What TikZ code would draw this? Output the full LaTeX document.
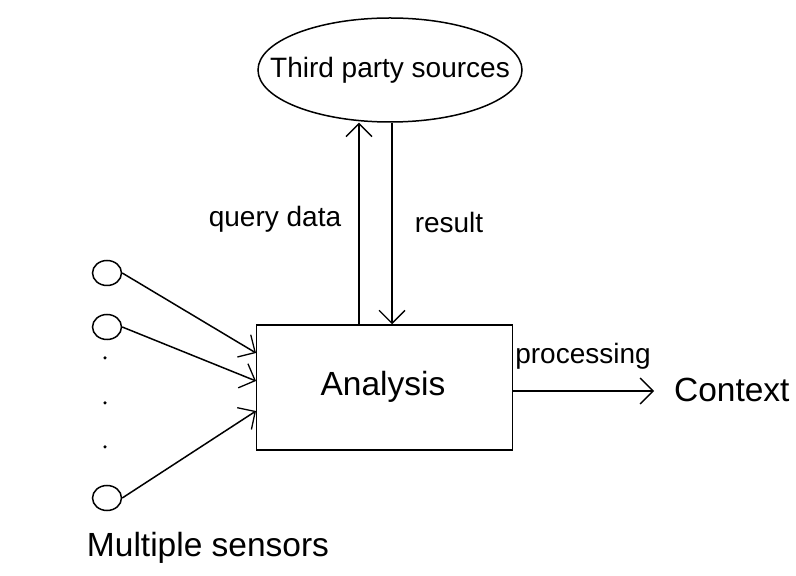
\documentclass[tikz,border=0pt]{standalone}
\usepackage{fontspec}
\setmainfont{Liberation Sans}
\usetikzlibrary{shapes.geometric,arrows.meta}
\tikzset{arr/.style={-{Straight Barb[length=13pt,width=26pt,line width=1.3pt]}}}
\begin{document}
\begin{tikzpicture}[x=1pt,y=1pt,
  line width=1.5pt,
  small/.style={font=\fontsize{28}{30}\selectfont},
  big/.style={font=\fontsize{33.5}{36}\selectfont},
  sensor/.style={draw,ellipse,minimum width=29pt,minimum height=25pt,inner sep=0pt},
  dotn/.style={circle,fill=black,inner sep=0pt,minimum size=3.5pt}]
\useasboundingbox (0,0) rectangle (796,576);
\node[draw,ellipse,minimum width=264pt,minimum height=104pt,inner sep=0pt] (src) at (390,506) {};
\node[small] (srct) at (src.center) {Third party sources};
\node[draw,rectangle,minimum width=256pt,minimum height=125pt,inner sep=0pt] (box) at (384.5,188.5) {};
\node[big] (ana) at (383,189) {Analysis};
\node[big,anchor=west] (ctx) at (670,186) {Context};
\coordinate (pend) at (654,185);
\node[small] (proc) at (583,220) {processing};
\node[small] (qd) at (275,357) {query data};
\node[small] (res) at (449,354) {result};
\node[big] (ms) at (208,28) {Multiple sensors};
\node[sensor] (s1) at (107,303) {};
\node[sensor] (s2) at (107,249) {};
\node[sensor] (s3) at (107,78) {};
\node[dotn] (d1) at (105,218) {};
\node[dotn] (d2) at (105,173) {};
\node[dotn] (d3) at (105,129) {};
\coordinate (qx) at (359,0);
\coordinate (rx) at (392,0);
\coordinate (in1) at (256,223);
\coordinate (in2) at (256,195);
\coordinate (in3) at (256,165);
\coordinate (out) at (512,185);
\draw[arr] (box.north -| qx) -- (src.south -| qx);
\draw[arr] (src.south -| rx) -- (box.north -| rx);
\draw[arr] (s1.east) -- (in1);
\draw[arr] (s2.east) -- (in2);
\draw[arr] (s3.east) -- (in3);
\draw[arr] (out) -- (pend);
\end{tikzpicture}
\end{document}
